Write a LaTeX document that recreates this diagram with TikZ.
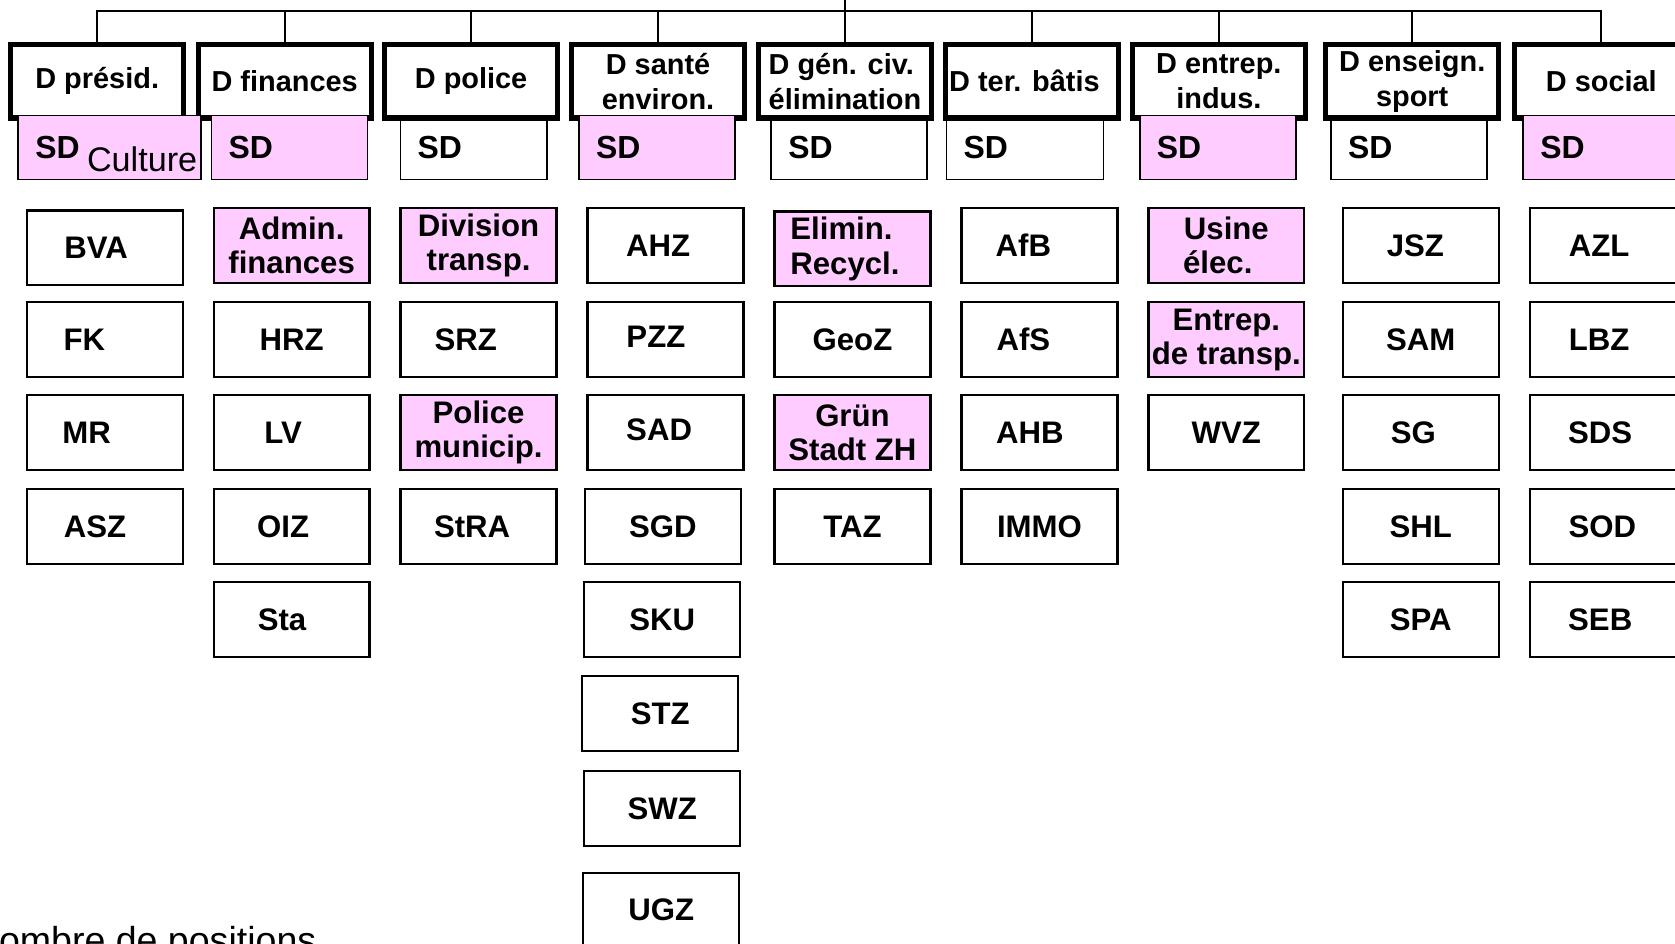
\documentclass[tikz,border=0pt]{standalone}
\usepackage{fontspec}
\setmainfont{Liberation Sans}
\usepackage{xcolor}
\definecolor{sdpink}{RGB}{255,204,255}

\begin{document}
\begin{tikzpicture}[
        dept/.style={rectangle, draw=black, line width=1.4pt, minimum width=1.62cm, minimum height=0.69cm, inner sep=0pt, align=center, font=\bfseries\fontsize{7.7}{9.3}\selectfont},
        sd/.style={rectangle, draw=black, line width=0.45pt, text width=1.14cm, inner xsep=0.16cm, inner ysep=0pt, minimum height=0.6cm, align=left, font=\bfseries\fontsize{8.5}{9.5}\selectfont},
        sdp/.style={sd, fill=sdpink},
        unit/.style={rectangle, draw=black, line width=0.6pt, minimum width=1.46cm, minimum height=0.7cm, inner sep=0pt, align=center, font=\bfseries\fontsize{8.3}{9.1}\selectfont},
        unitp/.style={unit, fill=sdpink},
        link/.style={draw=black, line width=0.45pt}
    ]
        \path[use as bounding box, fill=white] (0,0) rectangle (15.68,-8.83);

        % Directorates
        \node[dept] (dpres) at (0.91, -0.76) {D présid.};
        \node[dept] (dfin) at (2.665, -0.76) {D finances};
        \node[dept] (dpol) at (4.41, -0.76) {D police};
        \node[dept] (dsan) at (6.16, -0.76) {D santé\\environ.};
        \node[dept, align=left] (dgen) at (7.91, -0.76) {D gén. civ.\\élimination};
        \node[dept] (dter) at (9.66, -0.76) {D ter. bâtis\hspace*{0.14cm}};
        \node[dept] (dent) at (11.41, -0.76) {D entrep.\\indus.};
        \node[dept] (dens) at (13.22, -0.76) {D enseign.\\sport};
        \node[dept] (dsoc) at (14.99, -0.76) {D social};

        % Bus on top
        \coordinate (bus) at (0, -0.10);
        \coordinate (top) at (7.91, 0);
        \draw[link] (dpres.north) -- (dpres.north |- bus) -- (dsoc.north |- bus) -- (dsoc.north);
        \draw[link] (top) -- (dgen.north);
        \draw[link] (dfin.north) -- (dfin.north |- bus);
        \draw[link] (dpol.north) -- (dpol.north |- bus);
        \draw[link] (dsan.north) -- (dsan.north |- bus);
        \draw[link] (dter.north) -- (dter.north |- bus);
        \draw[link] (dent.north) -- (dent.north |- bus);
        \draw[link] (dens.north) -- (dens.north |- bus);

        % Secretariats
        \node[sdp, text width=1.39cm] (sdpres) at (1.025, -1.38) {SD\hspace{0.07cm}\rlap{\raisebox{-0.12cm}[0pt][0pt]{\mdseries\fontsize{9.1}{10}\selectfont Culture}}};
        \node[sdp] (sdfin) at (2.71, -1.38) {SD};
        \node[sd, text width=1.05cm] (sdpol) at (4.435, -1.38) {SD};
        \node[sdp] (sdsan) at (6.15, -1.38) {SD};
        \node[sd] (sdgen) at (7.95, -1.38) {SD};
        \node[sd, text width=1.15cm] (sdter) at (9.595, -1.38) {SD};
        \node[sdp] (sdent) at (11.40, -1.38) {SD};
        \node[sd] (sdens) at (13.19, -1.38) {SD};
        \node[sdp] (sdsoc) at (14.99, -1.38) {SD};

        % Column 1
        \node[unit] (bva) at (0.98, -2.32) {BVA\hspace*{0.16cm}};
        \node[unit] (fk) at (0.98, -3.18) {FK\hspace*{0.38cm}};
        \node[unit] (mr) at (0.98, -4.05) {MR\hspace*{0.34cm}};
        \node[unit] (asz) at (0.98, -4.93) {ASZ\hspace*{0.18cm}};

        % Column 2
        \node[unitp] (adfin) at (2.73, -2.30) {Admin.\\finances};
        \node[unit] (hrz) at (2.73, -3.18) {HRZ};
        \node[unit] (lv) at (2.73, -4.05) {LV\hspace*{0.16cm}};
        \node[unit] (oiz) at (2.73, -4.93) {OIZ\hspace*{0.16cm}};
        \node[unit] (sta) at (2.73, -5.80) {Sta\hspace*{0.18cm}};

        % Column 3
        \node[unitp] (divtr) at (4.48, -2.30) {Division\\transp.};
        \node[unit] (srz) at (4.48, -3.18) {SRZ\hspace*{0.24cm}};
        \node[unitp] (polmun) at (4.48, -4.05) {Police\\municip.};
        \node[unit] (stra) at (4.48, -4.93) {StRA\hspace*{0.12cm}};

        % Column 4
        \node[unit] (ahz) at (6.23, -2.30) {AHZ\hspace*{0.14cm}};
        \node[unit] (pzz) at (6.23, -3.18) {\raisebox{0.06cm}{PZZ}\hspace*{0.18cm}};
        \node[unit] (sad) at (6.23, -4.05) {\raisebox{0.05cm}{SAD}\hspace*{0.12cm}};
        \node[unit] (sgd) at (6.205, -4.93) {SGD};
        \node[unit] (sku) at (6.20, -5.80) {SKU};
        \node[unit] (stz) at (6.18, -6.68) {STZ};
        \node[unit] (swz) at (6.20, -7.57) {SWZ};
        \node[unit] (ugz) at (6.19, -8.52) {UGZ};

        % Column 5
        \node[unitp, align=left] (elim) at (7.98, -2.33) {Elimin.\\Recycl.\hspace*{0.14cm}};
        \node[unit] (geoz) at (7.98, -3.18) {GeoZ};
        \node[unitp] (gruen) at (7.98, -4.05) {Grün\\Stadt ZH};
        \node[unit] (taz) at (7.98, -4.93) {TAZ};

        % Column 6
        \node[unit] (afb) at (9.73, -2.30) {AfB\hspace*{0.30cm}};
        \node[unit] (afs) at (9.73, -3.18) {AfS\hspace*{0.30cm}};
        \node[unit] (ahb) at (9.73, -4.05) {AHB\hspace*{0.18cm}};
        \node[unit] (immo) at (9.73, -4.93) {IMMO};

        % Column 7
        \node[unitp] (usine) at (11.48, -2.30) {Usine\\élec.\hspace*{0.16cm}};
        \node[unitp] (entr) at (11.48, -3.18) {Entrep.\\de transp.};
        \node[unit] (wvz) at (11.48, -4.05) {WVZ};

        % Column 8
        \node[unit] (jsz) at (13.30, -2.30) {JSZ\hspace*{0.10cm}};
        \node[unit] (sam) at (13.30, -3.18) {SAM};
        \node[unit] (sg) at (13.30, -4.05) {SG\hspace*{0.14cm}};
        \node[unit] (shl) at (13.30, -4.93) {SHL};
        \node[unit] (spa) at (13.30, -5.80) {SPA};

        % Column 9
        \node[unit] (azl) at (15.05, -2.30) {AZL\hspace*{0.16cm}};
        \node[unit] (lbz) at (15.05, -3.18) {LBZ\hspace*{0.16cm}};
        \node[unit] (sds) at (15.05, -4.05) {SDS\hspace*{0.14cm}};
        \node[unit] (sod) at (15.05, -4.93) {SOD\hspace*{0.10cm}};
        \node[unit] (seb) at (15.05, -5.80) {SEB\hspace*{0.14cm}};

        % Legend (cut off)
        \node[anchor=base west, inner sep=0pt, font=\fontsize{10}{12}\selectfont] (legend) at (-0.27, -8.93) {Nombre de positions};
    \end{tikzpicture}
\end{document}
